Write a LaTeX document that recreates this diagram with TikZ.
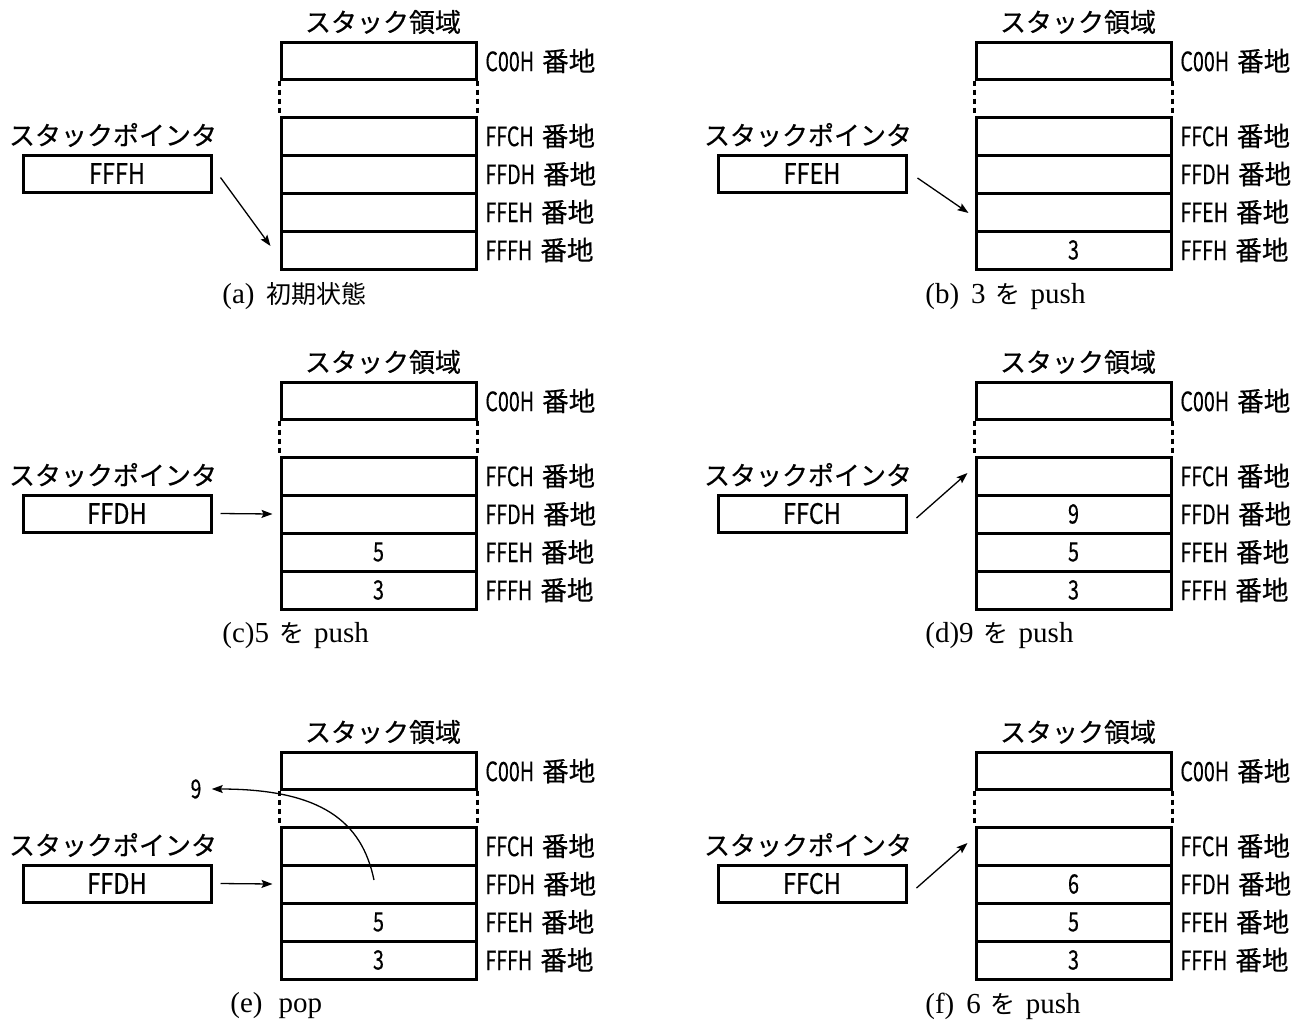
\documentclass[tikz,border=0pt]{standalone}
\usepackage{fontspec}
\usepackage{graphicx}
\setmainfont{Noto Sans CJK JP}
\newfontfamily\lblfam[FakeBold=0.5]{Noto Sans CJK JP}
\newfontfamily\capserif{Liberation Serif}
\usetikzlibrary{arrows.meta}
\newcommand\lblfont{\lblfam\fontsize{13.3}{15}\selectfont}
\newcommand\spfont{\lblfam\fontsize{14}{16}\selectfont}
\newcommand\ttlfont{\lblfam\fontsize{13}{15}\selectfont}
\newcommand\capfont{\fontsize{12.5}{14}\selectfont}
\newcommand\capl[1]{{\capserif\fontsize{14.5}{16}\selectfont #1}}
\newcommand\hxs[1]{\scalebox{0.74}[1]{#1}}
\tikzset{
 cell/.style={draw, line width=1.5pt, minimum width=97.5pt, minimum height=19pt, inner sep=0pt, font=\lblfont},
 spbox/.style={draw, line width=1.5pt, minimum width=94pt, minimum height=18.5pt, inner sep=0pt, font=\spfont},
 ttl/.style={inner sep=0pt, font=\ttlfont},
 addr/.style={anchor=west, inner sep=0pt, font=\lblfont},
 gapline/.style={line width=1.5pt, dash pattern=on 2.5pt off 2pt},
 ptr/.style={line width=0.65pt, -{Stealth[length=5.5pt,width=4pt,inset=1pt]}},
 capt/.style={anchor=west, inner sep=0pt, font=\capfont},
}
\newcommand\stackpanel[8]{%
\begin{scope}[shift={(#2,#3)}]
\node[ttl] (#1title) at (383,22) {スタック領域};
\node[cell,minimum height=18.5pt] (#1c00) at (378.5,60.5) {};
\node[cell] (#1ffc) at (378.5,136) {#5};
\node[cell] (#1ffd) at (378.5,174) {#6};
\node[cell] (#1ffe) at (378.5,212) {#7};
\node[cell] (#1fff) at (378.5,250) {#8};
\draw[gapline] (#1c00.south west) -- (#1ffc.north west);
\draw[gapline] (#1c00.south east) -- (#1ffc.north east);
\node[addr] (#1lc00) at (485,61) {\hxs{C00H}\hspace{4pt}番地};
\node[addr] (#1lffc) at (485,136) {\hxs{FFCH}\hspace{4pt}番地};
\node[addr] (#1lffd) at (485,174) {\hxs{FFDH}\hspace{4pt}番地};
\node[addr] (#1lffe) at (485,212) {\hxs{FFEH}\hspace{4pt}番地};
\node[addr] (#1lfff) at (485,250) {\hxs{FFFH}\hspace{4pt}番地};
\node[ttl] (#1spl) at (113,135) {スタックポインタ};
\node[spbox] (#1sp) at (117,173.5) {\scalebox{0.84}[1]{#4}};
\end{scope}}
\begin{document}
\begin{tikzpicture}[x=0.5pt,y=-0.5pt]
\useasboundingbox (0,0) rectangle (1295,1019);
\stackpanel{a}{0}{0}{FFFH}{}{}{}{}
\stackpanel{b}{695}{0}{FFEH}{}{}{}{\hxs{3}}
\stackpanel{c}{0}{340}{FFDH}{}{}{\hxs{5}}{\hxs{3}}
\stackpanel{d}{695}{340}{FFCH}{}{\hxs{9}}{\hxs{5}}{\hxs{3}}
\stackpanel{e}{0}{710}{FFDH}{}{}{\hxs{5}}{\hxs{3}}
\stackpanel{f}{695}{710}{FFCH}{}{\hxs{6}}{\hxs{5}}{\hxs{3}}
% pointers
\draw[ptr] ([xshift=4pt,yshift=-2pt]asp.east) -- ([xshift=-4.5pt,yshift=2pt]afff.west);
\draw[ptr] ([xshift=5pt,yshift=-2.25pt]bsp.east) -- ([xshift=-3pt,yshift=-0.5pt]bffe.west);
\draw[ptr] ([xshift=4pt]csp.east) -- ([xshift=-3.5pt]cffd.west);
\draw[ptr] ([xshift=4.5pt,yshift=-2.25pt]dsp.east) -- ([xshift=-3.5pt,yshift=1.5pt]dffc.west);
\draw[ptr] ([xshift=4pt]esp.east) -- ([xshift=-3.5pt]effd.west);
\draw[ptr] ([xshift=4.5pt,yshift=-2.25pt]fsp.east) -- ([xshift=-3.5pt,yshift=1.5pt]fffc.west);
% pop
\coordinate (epop) at (374,880);
\node[ttl] (e9) at (196,789) {\hxs{9}};
\draw[ptr, shorten >=5pt] (epop) .. controls (362,822) and (322,789) .. (e9.east);
% captions
\node[capt] (capa) at (222,296) {\capl{(a)}\hspace{6pt}初期状態};
\node[capt] (capb) at (925,297) {\capl{(b)\hspace{6pt}3}\hspace{5pt}を\hspace{5pt}\capl{push}};
\node[capt] (capc) at (222,636) {\capl{(c)5}\hspace{5pt}を\hspace{5pt}\capl{push}};
\node[capt] (capd) at (925,636) {\capl{(d)9}\hspace{5pt}を\hspace{5pt}\capl{push}};
\node[capt] (cape) at (230,1006) {\capl{(e)\hspace{8pt}pop}};
\node[capt] (capf) at (925,1006) {\capl{(f)\hspace{6pt}6}\hspace{5pt}を\hspace{5pt}\capl{push}};
\end{tikzpicture}
\end{document}
